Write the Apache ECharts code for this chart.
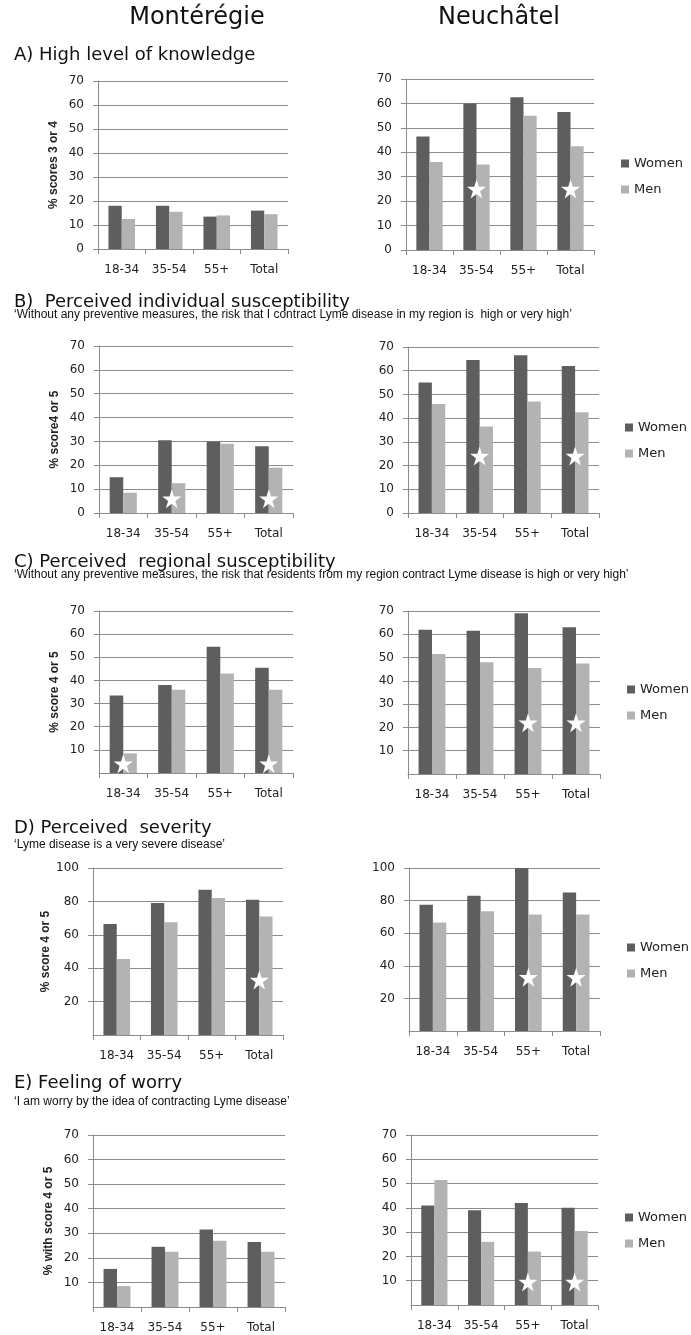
<!DOCTYPE html>
<html><head><meta charset="utf-8">
<script src="https://cdn.jsdelivr.net/npm/echarts@6/dist/echarts.min.js"></script>
<style>html,body{margin:0;padding:0;background:#fff}#c{width:691px;height:1335px}</style>
</head><body><div id="c"></div>
<script>
const categories = ['18-34', '35-54', '55+', 'Total'];
const seriesNames = ['Women', 'Men'];
const regionTitles = ['Montérégie', 'Neuchâtel'];
const panelTitles = ['A) High level of knowledge', 'B)  Perceived individual susceptibility', 'C) Perceived  regional susceptibility', 'D) Perceived  severity', 'E) Feeling of worry'];
const panelSubtitles = ['', '\u2018Without any preventive measures, the risk that I contract Lyme disease in my region is  high or very high\u2019', '\u2018Without any preventive measures, the risk that residents from my region contract Lyme disease is high or very high\u2019', '\u2018Lyme disease is a very severe disease\u2019', '\u2018I am worry by the idea of contracting Lyme disease\u2019'];
const yAxisNames = ['% scores 3 or 4', '% score4 or 5', '% score 4 or 5', '% score 4 or 5', '% with score 4 or 5'];

// A) knowledge
const womenA_Mon = [18, 18, 13.5, 16];
const menA_Mon = [12.5, 15.5, 14, 14.5];
const starsA_Mon = [null, null, null, null];
const womenA_Neu = [46.5, 60, 62.5, 56.5];
const menA_Neu = [36, 35, 55, 42.5];
const starsA_Neu = [null, 25, null, 25];
// B) individual susceptibility
const womenB_Mon = [15, 30.5, 30, 28];
const menB_Mon = [8.5, 12.5, 29, 19];
const starsB_Mon = [null, 6, null, 6];
const womenB_Neu = [55, 64.5, 66.5, 62];
const menB_Neu = [46, 36.5, 47, 42.5];
const starsB_Neu = [null, 24, null, 24];
// C) regional susceptibility
const womenC_Mon = [33.5, 38, 54.5, 45.5];
const menC_Mon = [8.5, 36, 43, 36];
const starsC_Mon = [4, null, null, 4];
const womenC_Neu = [62, 61.5, 69, 63];
const menC_Neu = [51.5, 48, 45.5, 47.5];
const starsC_Neu = [null, null, 22, 22];
// D) severity
const womenD_Mon = [66.5, 79, 87, 81];
const menD_Mon = [45.5, 67.5, 82, 71];
const starsD_Mon = [null, null, null, 33];
const womenD_Neu = [77.5, 83, 100, 85];
const menD_Neu = [66.5, 73.5, 71.5, 71.5];
const starsD_Neu = [null, null, 33, 33];
// E) worry
const womenE_Mon = [15.5, 24.5, 31.5, 26.5];
const menE_Mon = [8.5, 22.5, 27, 22.5];
const starsE_Mon = [null, null, null, null];
const womenE_Neu = [41, 39, 42, 40];
const menE_Neu = [51.5, 26, 22, 30.5];
const starsE_Neu = [null, null, 9.5, 9.5];

const yMax = [70, 70, 70, 100, 70];
const yStep = [10, 10, 10, 20, 10];
const hideZero = [false, false, true, true, true];

const panels = [
  [womenA_Mon, menA_Mon, starsA_Mon], [womenA_Neu, menA_Neu, starsA_Neu],
  [womenB_Mon, menB_Mon, starsB_Mon], [womenB_Neu, menB_Neu, starsB_Neu],
  [womenC_Mon, menC_Mon, starsC_Mon], [womenC_Neu, menC_Neu, starsC_Neu],
  [womenD_Mon, menD_Mon, starsD_Mon], [womenD_Neu, menD_Neu, starsD_Neu],
  [womenE_Mon, menE_Mon, starsE_Mon], [womenE_Neu, menE_Neu, starsE_Neu]
];

// layout
const grids = [
  {left: 98, top: 81, width: 190, height: 168}, {left: 406, top: 79, width: 188, height: 171},
  {left: 99, top: 346, width: 194, height: 167}, {left: 408, top: 347, width: 191, height: 166},
  {left: 99, top: 611, width: 194, height: 162}, {left: 408, top: 611, width: 192, height: 163},
  {left: 93, top: 868, width: 190, height: 167}, {left: 409, top: 868, width: 191, height: 163},
  {left: 93, top: 1135, width: 192, height: 172}, {left: 411, top: 1135, width: 187, height: 170}
];
const nameGaps = [38, 38, 38, 41, 38];
const titleY = [55, 302, 562, 828, 1083];
const subY = [0, 315, 575, 845, 1102];
const legendPos = [[621, 157], [625, 421], [627, 683], [627, 941], [625, 1211]];

const GRID = '#8c8c8c';
const TXT = '#222';
const starPath = 'path://M50,0 L61.2,34.5 L97.6,34.5 L68.2,55.9 L79.4,90.5 L50,69.1 L20.6,90.5 L31.8,55.9 L2.4,34.5 L38.8,34.5 Z';

const xAxes = [], yAxes = [], series = [], legends = [], graphics = [];
panels.forEach((p, i) => {
  const row = Math.floor(i / 2), col = i % 2;
  xAxes.push({
    type: 'category', gridIndex: i, data: categories,
    axisLine: {lineStyle: {color: GRID, width: 1}},
    axisTick: {show: true, length: 5, lineStyle: {color: GRID}},
    axisLabel: {color: TXT, fontFamily: 'DejaVu Sans', fontSize: 12, margin: 15}
  });
  yAxes.push({
    type: 'value', gridIndex: i, min: 0, max: yMax[row], interval: yStep[row],
    name: col === 0 ? yAxisNames[row] : '',
    nameLocation: 'middle', nameRotate: 90, nameGap: nameGaps[row],
    nameTextStyle: {fontFamily: 'Liberation Sans', fontWeight: 'bold', fontSize: 12, color: TXT},
    axisLine: {show: true, lineStyle: {color: GRID, width: 1}},
    axisTick: {show: true, length: 5, lineStyle: {color: GRID}},
    splitLine: {show: true, lineStyle: {color: GRID, width: 1}},
    axisLabel: {color: TXT, fontFamily: 'DejaVu Sans', fontSize: 12, margin: 14, showMinLabel: !hideZero[row]}
  });
  series.push({
    name: 'Women', type: 'bar', xAxisIndex: i, yAxisIndex: i, data: p[0],
    barWidth: '28%', barGap: '0%', itemStyle: {color: '#5e5e5e'}
  });
  series.push({
    name: 'Men', type: 'bar', xAxisIndex: i, yAxisIndex: i, data: p[1],
    barWidth: '28%', barGap: '0%', itemStyle: {color: '#b3b3b3'}
  });
  series.push({
    name: 'sig', type: 'scatter', xAxisIndex: i, yAxisIndex: i, data: p[2],
    symbol: starPath, symbolSize: 19, itemStyle: {color: '#ffffff', opacity: 1}, z: 5, silent: true
  });
});
legendPos.forEach(lp => {
  legends.push({
    data: seriesNames, orient: 'vertical', left: lp[0], top: lp[1], padding: 0,
    icon: 'rect', itemWidth: 8, itemHeight: 8, itemGap: 13,
    textStyle: {fontFamily: 'DejaVu Sans', fontSize: 13, color: TXT},
    selectedMode: false
  });
});
graphics.push({type: 'text', x: 197, y: 18, style: {text: regionTitles[0], font: '24px "DejaVu Sans"', fill: '#111', textAlign: 'center', textVerticalAlign: 'middle'}});
graphics.push({type: 'text', x: 499, y: 18, style: {text: regionTitles[1], font: '24px "DejaVu Sans"', fill: '#111', textAlign: 'center', textVerticalAlign: 'middle'}});
panelTitles.forEach((t, r) => {
  graphics.push({type: 'text', x: 14, y: titleY[r], style: {text: t, font: '18px "DejaVu Sans"', fill: '#111', textVerticalAlign: 'middle'}});
  if (panelSubtitles[r]) {
    graphics.push({type: 'text', x: 14, y: subY[r], style: {text: panelSubtitles[r], font: '12px "Liberation Sans"', fill: '#111', textVerticalAlign: 'middle'}});
  }
});

const chart = echarts.init(document.getElementById('c'), null, {renderer: 'canvas'});
chart.setOption({
  animation: false,
  backgroundColor: '#fff',
  grid: grids,
  xAxis: xAxes,
  yAxis: yAxes,
  series: series,
  legend: legends,
  graphic: graphics
});
</script></body></html>
